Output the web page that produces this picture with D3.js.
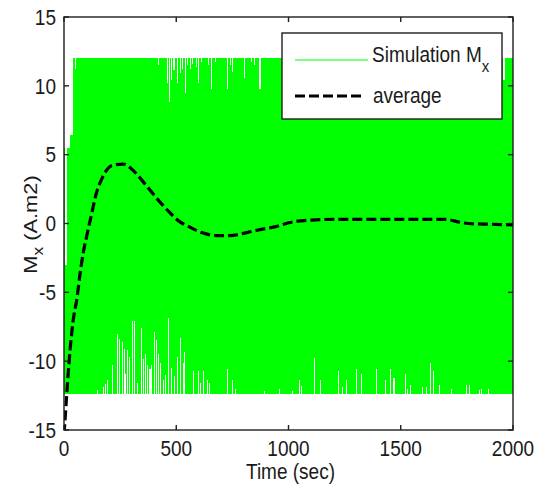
<!DOCTYPE html>
<html>
<head>
<meta charset="utf-8">
<script src="https://cdn.jsdelivr.net/npm/d3@7"></script>
<style>
  html, body { margin: 0; padding: 0; background: #fff; }
  svg { display: block; }
  text { font-family: "Liberation Sans", Arial, sans-serif; fill: #1a1a1a; }
</style>
</head>
<body>
<svg id="chart" width="542" height="485"></svg>
<script>
// Axis ticks
const xTicks = [0, 500, 1000, 1500, 2000];
const yTicks = [-15, -10, -5, 0, 5, 10, 15];

// Simulated Mx: oscillation saturates between these two levels
const bandTop = 12;
const bandBottom = -12.4;

// Start-up part of the upper envelope (time, value)
const startT = [0, 4, 4, 15, 15, 26, 26, 40, 40];
const startV = [5.5, 5.5, -3, -3, 5.5, 5.5, 6.4, 6.4, 12];

// Cycles whose positive peak stays below the saturation level
const topDipT = [53, 420, 460, 469, 478, 490, 505, 517, 529, 543, 552, 564, 573, 591, 600, 612, 643, 655, 676, 727, 742, 751, 802, 836, 849, 873, 1958, 1962];
const topDipV = [11.2, 11.5, 10.2, 8.8, 10.4, 11.15, 10.2, 10.9, 11.2, 9.45, 11.5, 11.2, 11.6, 11.4, 10.2, 11.7, 11.5, 9.75, 11.7, 9.75, 11.5, 11.0, 10.6, 11.7, 11.5, 9.75, 10.4, 10.4];

// Cycles whose negative peak stays above the saturation level
const bottomDipT = [151, 175, 183, 193, 218, 240, 249, 260, 270, 276, 285, 292, 304, 315, 327, 344, 352, 361, 371, 383, 390, 401, 410, 420, 431, 442, 453, 466, 480, 493, 505, 520, 531, 537, 576, 597, 606, 621, 638, 647, 730, 750, 765, 895, 962,
  1016, 1050, 1057, 1114, 1143, 1224, 1240, 1257, 1302, 1327, 1391, 1431, 1455, 1470, 1520, 1528, 1544, 1599, 1616, 1633, 1648, 1673, 1728, 1792, 1807, 1852, 1859, 1889];
const bottomDipV = [-12.1, -11.9, -11.65, -11.4, -10.3, -8.0, -8.4, -8.6, -9.1, -10.9, -9.2, -9.7, -7.1, -7.1, -11.6, -7.6, -9.85, -9.5, -10.3, -10.6, -10.3, -7.9, -8.45, -9.5, -10.1, -11.4, -11.0, -6.9, -10.5, -11.1, -9.7, -8.3, -10.1, -9.3, -10.7, -10.7, -11.6, -10.7, -11.4, -11.6, -10.6, -11.4, -12.0, -12.2, -12.0,
  -12.2, -11.4, -11.8, -9.8, -11.4, -10.7, -11.9, -11.4, -10.6, -10.9, -10.6, -11.4, -10.6, -11.2, -10.9, -12.0, -11.7, -11.9, -11.9, -10.1, -10.7, -11.7, -12.0, -11.7, -11.7, -12.1, -12.0, -12.0];

// Running average of Mx
const avgT = [0, 9, 16, 27, 40, 58, 71, 85, 102, 125, 142, 170, 212, 264, 316, 361, 413, 460, 509, 561, 613, 680, 739, 814, 866, 950, 1000, 1100, 1200, 1300, 1400, 1500, 1600, 1700, 1760, 1800, 1900, 2000];
const avgV = [-15.3, -13.2, -11.5, -9.2, -7.15, -5.4, -3.7, -2.2, -0.85, 0.84, 2.07, 3.3, 4.2, 4.32, 3.72, 2.87, 1.83, 0.98, 0.21, -0.27, -0.66, -0.88, -0.88, -0.66, -0.47, -0.2, 0.05, 0.25, 0.3, 0.3, 0.3, 0.3, 0.3, 0.3, 0.1, 0.0, -0.05, -0.1];

const svg = d3.select("#chart");
const plotLeft = 64, plotRight = 513, plotTop = 17, plotBottom = 430;
const stretch = 1.15;   // tall, narrow lettering

const x = d3.scaleLinear().domain([0, 2000]).range([plotLeft, plotRight]);
const y = d3.scaleLinear().domain([-15, 15]).range([plotBottom, plotTop]);

svg.append("defs").append("clipPath").attr("id", "plotArea")
  .append("rect").attr("x", plotLeft).attr("y", plotTop)
  .attr("width", plotRight - plotLeft).attr("height", plotBottom - plotTop);

const plot = svg.append("g").attr("clip-path", "url(#plotArea)");

// Envelope of the oscillating signal: upper edge left to right, lower edge right to left
// (each under-shooting cycle leaves a notch about one pixel wide)
const halfW = 2.3;
const upper = startT.map((t, i) => [t, startV[i]]);
d3.range(topDipT.length).sort((a, b) => topDipT[a] - topDipT[b]).forEach(i => {
  const t = topDipT[i], v = topDipV[i];
  upper.push([t - halfW, bandTop], [t - halfW, v], [t + halfW, v], [t + halfW, bandTop]);
});
upper.push([2000, bandTop]);

const lower = [[0, bandBottom]];
d3.range(bottomDipT.length).sort((a, b) => bottomDipT[a] - bottomDipT[b]).forEach(i => {
  const t = bottomDipT[i], v = bottomDipV[i];
  lower.push([t - halfW, bandBottom], [t - halfW, v], [t + halfW, v], [t + halfW, bandBottom]);
});
lower.push([2000, bandBottom]);

const outline = upper.concat(lower.slice().reverse());
const line = d3.line().x(d => x(d[0])).y(d => y(d[1]));

plot.append("path")
  .attr("d", line(outline) + "Z")
  .attr("fill", "#00ff00")
  .attr("stroke", "none")
  .attr("shape-rendering", "crispEdges");

// Average curve
const avgLine = d3.line().curve(d3.curveMonotoneX).x((d, i) => x(avgT[i])).y(d => y(d));
plot.append("path")
  .attr("d", avgLine(avgV))
  .attr("fill", "none")
  .attr("stroke", "#000")
  .attr("stroke-width", 3.2)
  .attr("stroke-dasharray", "10,4");

// Box with inward ticks on all sides
const axisColor = "#1e1e1e";
const tickLen = 5;
const axes = svg.append("g").attr("stroke", axisColor).attr("stroke-width", 1.4).attr("fill", "none");
axes.append("rect").attr("x", plotLeft).attr("y", plotTop)
  .attr("width", plotRight - plotLeft).attr("height", plotBottom - plotTop);
xTicks.forEach(t => {
  axes.append("line").attr("x1", x(t)).attr("x2", x(t)).attr("y1", plotBottom).attr("y2", plotBottom - tickLen);
  axes.append("line").attr("x1", x(t)).attr("x2", x(t)).attr("y1", plotTop).attr("y2", plotTop + tickLen);
});
yTicks.forEach(v => {
  axes.append("line").attr("x1", plotLeft).attr("x2", plotLeft + tickLen).attr("y1", y(v)).attr("y2", y(v));
  axes.append("line").attr("x1", plotRight).attr("x2", plotRight - tickLen).attr("y1", y(v)).attr("y2", y(v));
});

// Tick labels
const fs = 19;
xTicks.forEach(t => {
  svg.append("text")
    .attr("transform", `translate(${x(t)},${456}) scale(1,${stretch})`)
    .attr("text-anchor", "middle")
    .style("font-size", fs + "px")
    .text(t);
});
yTicks.forEach(v => {
  svg.append("text")
    .attr("transform", `translate(${56},${y(v) + 7.8}) scale(1,${stretch})`)
    .attr("text-anchor", "end")
    .style("font-size", fs + "px")
    .text(v);
});

// Axis titles
svg.append("text")
  .attr("transform", `translate(${(plotLeft + plotRight) / 2 + 2},${479}) scale(1,${stretch})`)
  .attr("text-anchor", "middle")
  .style("font-size", fs + "px")
  .text("Time (sec)");

const yTitle = svg.append("text")
  .attr("transform", `translate(${37},${(plotTop + plotBottom) / 2 + 1}) scale(1,${stretch}) rotate(-90)`)
  .attr("text-anchor", "middle")
  .style("font-size", fs + "px");
yTitle.append("tspan").text("M");
yTitle.append("tspan").attr("dy", 6).style("font-size", "15px").text("x");
yTitle.append("tspan").attr("dy", -6).text(" (A.m2)");

// Legend
const legend = svg.append("g");
legend.append("rect")
  .attr("x", 282).attr("y", 33).attr("width", 220).attr("height", 86)
  .attr("fill", "#fff").attr("stroke", axisColor).attr("stroke-width", 1.4);
legend.append("line")
  .attr("x1", 295).attr("x2", 368).attr("y1", 60).attr("y2", 60)
  .attr("stroke", "#00ff00").attr("stroke-width", 1.2);
legend.append("line")
  .attr("x1", 295).attr("x2", 365).attr("y1", 96).attr("y2", 96)
  .attr("stroke", "#000").attr("stroke-width", 3.2).attr("stroke-dasharray", "10,4");
const lt1 = legend.append("text")
  .attr("transform", `translate(${372},${61.5}) scale(1,${stretch})`)
  .style("font-size", fs + "px");
lt1.append("tspan").text("Simulation M");
lt1.append("tspan").attr("dy", 9).style("font-size", "15px").text("x");
legend.append("text")
  .attr("transform", `translate(${373},${103}) scale(1,${stretch})`)
  .style("font-size", fs + "px")
  .text("average");
</script>
</body>
</html>
